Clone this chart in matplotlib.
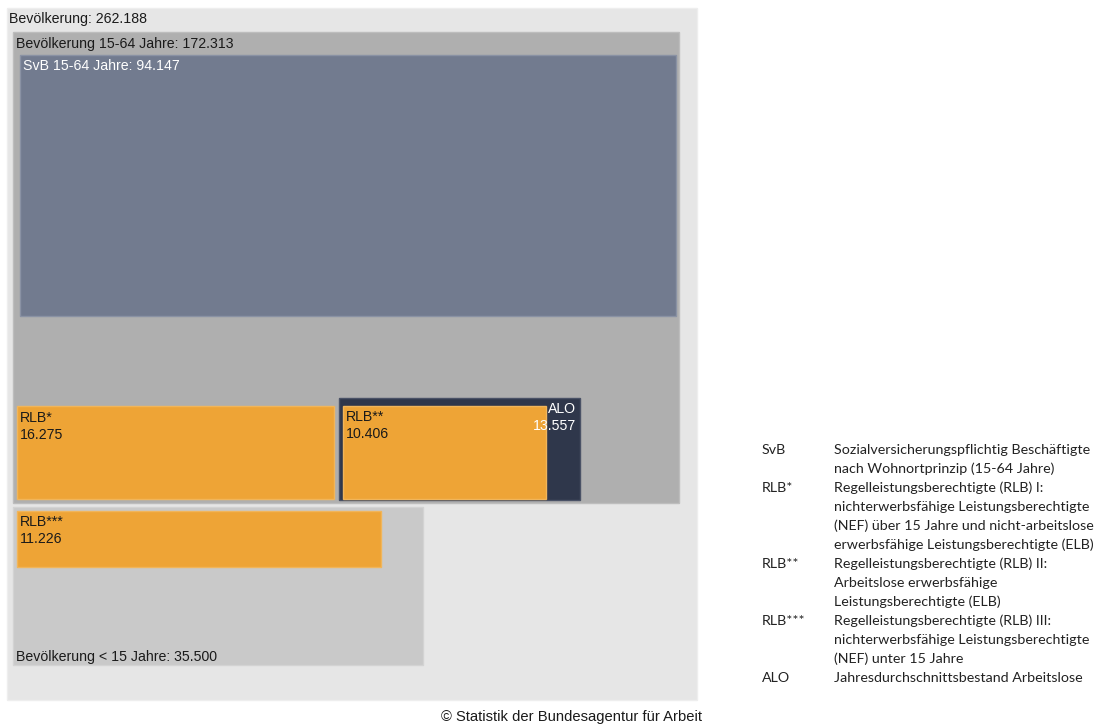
import matplotlib.pyplot as plt
from matplotlib.patches import Rectangle

# ---------------------------------------------------------
# DATEN
# ---------------------------------------------------------
keys = ["bev", "bev1564", "svb", "rlb1", "alo", "rlb2", "bev15", "rlb3"]
values = [262188, 172313, 94147, 16275, 13557, 10406, 35500, 11226]

legend_keys = ["SvB", "", "RLB*", "", "", "", "RLB**", "", "", "RLB***", "", "", "ALO"]
legend_text = [
    "Sozialversicherungspflichtig Beschäftigte",
    "nach Wohnortprinzip (15-64 Jahre)",
    "Regelleistungsberechtigte (RLB) I:",
    "nichterwerbsfähige Leistungsberechtigte",
    "(NEF) über 15 Jahre und nicht-arbeitslose",
    "erwerbsfähige Leistungsberechtigte (ELB)",
    "Regelleistungsberechtigte (RLB) II:",
    "Arbeitslose erwerbsfähige",
    "Leistungsberechtigte (ELB)",
    "Regelleistungsberechtigte (RLB) III:",
    "nichterwerbsfähige Leistungsberechtigte",
    "(NEF) unter 15 Jahre",
    "Jahresdurchschnittsbestand Arbeitslose",
]


def fmt(v):
    return f"{v:,}".replace(",", ".")


# ---------------------------------------------------------
# LAYOUT (Pixel-Koordinaten: links, oben, Breite; Höhe aus Fläche)
# ---------------------------------------------------------
layout = {
    "bev":     (7, 8, 690),
    "bev1564": (13, 32, 666),
    "svb":     (20, 55, 656),
    "rlb1":    (17, 405.5, 317),
    "alo":     (338.5, 397.5, 241),
    "rlb2":    (343, 405.5, 203),
    "bev15":   (13, 507, 410),
    "rlb3":    (17, 511, 364),
}
styles = {
    "bev":     ("#e6e6e6", "#eeeeee"),
    "bev1564": ("#afafaf", "#bdbdbd"),
    "svb":     ("#727b8f", "#8a92a4"),
    "rlb1":    ("#eea436", "#f1b55a"),
    "alo":     ("#2f374b", "#4a5266"),
    "rlb2":    ("#eea436", "#f1b55a"),
    "bev15":   ("#c9c9c9", "#d3d3d3"),
    "rlb3":    ("#eea436", "#f1b55a"),
}

# Fläche proportional zum Wert: gesamte Bevölkerung = 690 x 692 px
scale = 690 * 692 / values[0]

plt.rcParams["font.family"] = ["Liberation Sans", "DejaVu Sans"]

fig = plt.figure(figsize=(10.98, 7.24), dpi=100)
ax = fig.add_axes([0, 0, 1, 1])
ax.set_xlim(0, 1098)
ax.set_ylim(724, 0)
ax.axis("off")

for k, v in zip(keys, values):
    left, top, w = layout[k]
    h = v * scale / w
    face, edge = styles[k]
    ax.add_patch(Rectangle((left, top), w, h, facecolor=face,
                           edgecolor=edge, linewidth=1))

val = dict(zip(keys, values))
fs = 10.2
dark = "#1a1a1a"

# Beschriftungen
ax.text(9, 19, f"Bevölkerung: {fmt(val['bev'])}", fontsize=fs, va="center", color=dark)
ax.text(16, 44, f"Bevölkerung 15-64 Jahre: {fmt(val['bev1564'])}", fontsize=fs, va="center", color=dark)
ax.text(23, 66, f"SvB 15-64 Jahre: {fmt(val['svb'])}", fontsize=fs, va="center", color="white")
ax.text(20, 418, "RLB*", fontsize=fs, va="center", color=dark)
ax.text(20, 435, fmt(val["rlb1"]), fontsize=fs, va="center", color=dark)
ax.text(346, 417, "RLB**", fontsize=fs, va="center", color=dark)
ax.text(346, 434, fmt(val["rlb2"]), fontsize=fs, va="center", color=dark)
ax.text(576, 409, "ALO", fontsize=fs, va="center", ha="right", color="white")
ax.text(576, 426, fmt(val["alo"]), fontsize=fs, va="center", ha="right", color="white")
ax.text(20, 522, "RLB***", fontsize=fs, va="center", color=dark)
ax.text(20, 539, fmt(val["rlb3"]), fontsize=fs, va="center", color=dark)
ax.text(16, 657, f"Bevölkerung < 15 Jahre: {fmt(val['bev15'])}", fontsize=fs, va="center", color=dark)

# Legende rechts
for i, (lk, lt) in enumerate(zip(legend_keys, legend_text)):
    y = 450 + i * 19
    ax.text(762, y, lk, fontsize=10.3, va="center", family="Lato", color="#222222")
    ax.text(834, y, lt, fontsize=10.3, va="center", family="Lato", color="#222222")

# Quelle
ax.text(702, 717, "© Statistik der Bundesagentur für Arbeit", fontsize=10.6,
        ha="right", va="center", color=dark)

fig.savefig("out.png", dpi=100)
